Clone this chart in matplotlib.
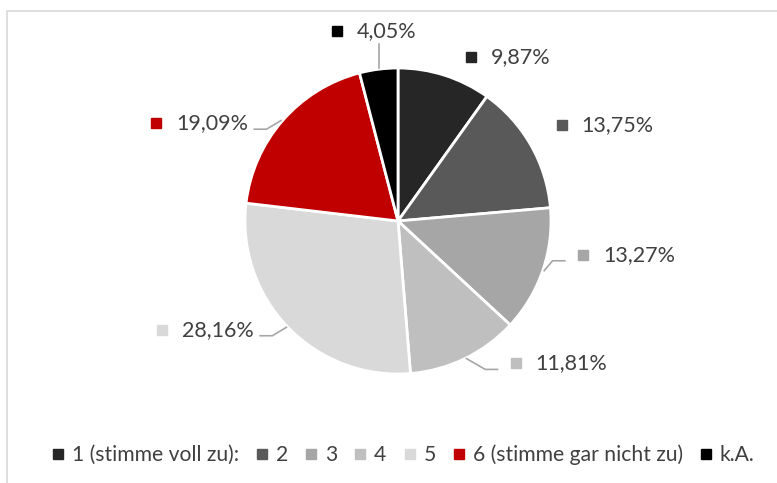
import matplotlib
matplotlib.use("Agg")
import matplotlib.pyplot as plt
import numpy as np
from matplotlib.patches import Rectangle

categories = ["1 (stimme voll zu):", "2", "3", "4", "5", "6 (stimme gar nicht zu)", "k.A."]
values = [9.87, 13.75, 13.27, 11.81, 28.16, 19.09, 4.05]
labels = ["9,87%", "13,75%", "13,27%", "11,81%", "28,16%", "19,09%", "4,05%"]
colors = ["#262626", "#595959", "#A6A6A6", "#BFBFBF", "#D9D9D9", "#C00000", "#000000"]

# label placement (text left edge, text middle) in pie radius units
label_pos = [(0.61, 1.07), (1.20, 0.63), (1.34, -0.22), (0.90, -0.93),
             (-1.41, -0.71), (-1.45, 0.64), (-0.27, 1.24)]
has_leader = [False, False, True, True, True, True, True]

plt.rcParams['font.family'] = ['Lato', 'DejaVu Sans']
text_col = "#404040"

W, H = 777, 483
cx, cy, R = 398, 221, 153
fig = plt.figure(figsize=(W / 100, H / 100), dpi=100)
ax = fig.add_axes([0, 0, 1, 1])
ax.axis("off")

# chart frame (only left and top edges visible)
fig.patches.append(Rectangle((7 / W, -0.1), 1.2, 1 - 11 / H + 0.1, transform=fig.transFigure,
                             fill=False, edgecolor="#D9D9D9", linewidth=1.2))

wedges, _ = ax.pie(values, colors=colors, startangle=90, counterclock=False, radius=1,
                   wedgeprops=dict(edgecolor="white", linewidth=2))
ax.set_xlim(-cx / R, (W - cx) / R)
ax.set_ylim(-(H - cy) / R, cy / R)
ax.set_aspect("auto")

texts = []
for i, (lx, ly) in enumerate(label_pos):
    t = ax.text(lx, ly, labels[i], fontsize=15.5, color=text_col, ha="left", va="center")
    ax.plot(lx - 0.13, ly, marker="s", markersize=6.5, color=colors[i], linestyle="none")
    texts.append(t)

fig.canvas.draw()
renderer = fig.canvas.get_renderer()
inv = ax.transData.inverted()
for i, w in enumerate(wedges):
    if not has_leader[i]:
        continue
    ang = np.deg2rad((w.theta1 + w.theta2) / 2)
    sx, sy = np.cos(ang), np.sin(ang)
    lx, ly = label_pos[i]
    bb = texts[i].get_window_extent(renderer)
    (x0, y0), (x1, y1) = inv.transform([[bb.x0, bb.y0], [bb.x1, bb.y1]])
    if abs(sx) < 0.3:
        # vertical leader up to the label
        ax.plot([sx, sx], [sy + 0.01, y0 - 0.02], color="#A6A6A6", lw=1.2)
        continue
    ey = ly - 0.04
    if sx > 0:
        ex = lx - 0.13 - 0.12
        ax.plot([sx + 0.01, ex - 0.08, ex], [sy, ey, ey], color="#A6A6A6", lw=1.2)
    else:
        ex = x1 + 0.04
        ax.plot([sx - 0.01, ex + 0.08, ex], [sy, ey, ey], color="#A6A6A6", lw=1.2)

handles = [plt.Line2D([], [], marker="s", markersize=6.5, color=c, linestyle="none") for c in colors]
leg = fig.legend(handles, categories, loc="center", bbox_to_anchor=(403 / W, 1 - 455 / H), ncol=7,
                 frameon=False, fontsize=15.2, handlelength=0.6, handletextpad=0.35,
                 columnspacing=0.8, labelcolor=text_col)

fig.savefig("out.png", dpi=100)
